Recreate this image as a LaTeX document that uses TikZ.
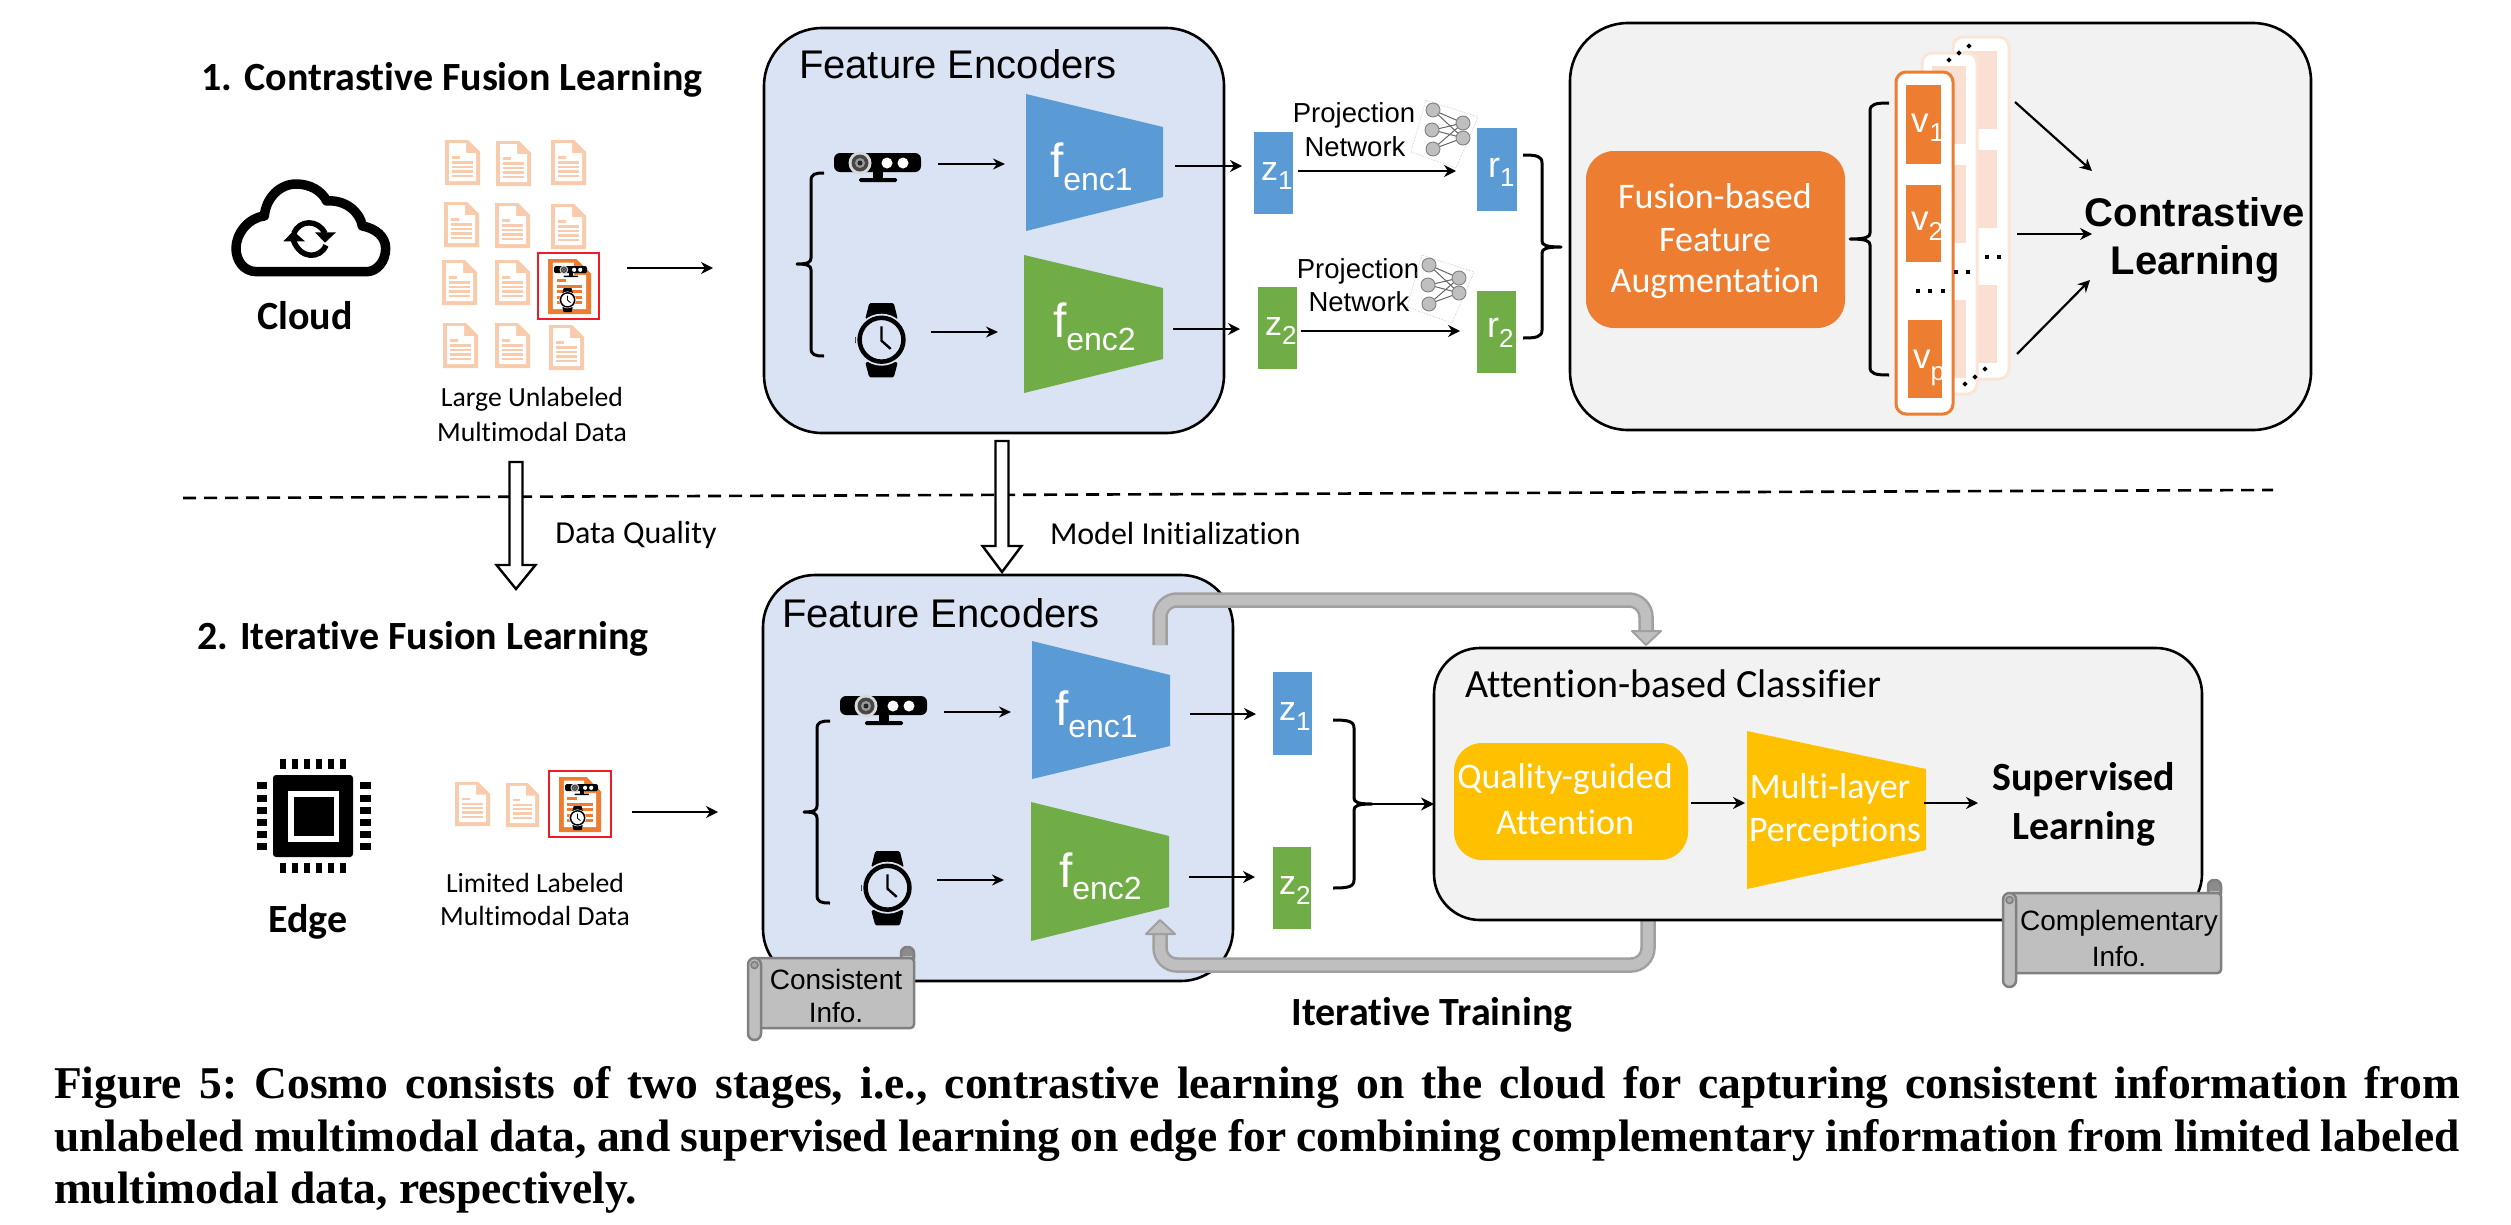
\documentclass[tikz,border=0pt]{standalone}
\usepackage{fontspec}
\setmainfont{Liberation Serif}
\newfontfamily\cali[Ligatures=NoCommon]{Carlito}
\newfontfamily\ari{Liberation Sans}
\usetikzlibrary{arrows.meta,calc}
\definecolor{fblue}{HTML}{DAE3F3}
\definecolor{pgrey}{HTML}{F2F2F2}
\definecolor{oran}{HTML}{ED7D31}
\definecolor{lor}{HTML}{F9E0D2}
\definecolor{lorl}{HTML}{FBE5D6}
\definecolor{docor}{HTML}{F8CBAD}
\definecolor{bblue}{HTML}{5B9BD5}
\definecolor{bgreen}{HTML}{70AD47}
\definecolor{gold}{HTML}{FFC000}
\definecolor{pipe}{HTML}{BFBFBF}
\definecolor{pipee}{HTML}{A0A0A0}
\definecolor{red1}{HTML}{EE1C25}
\tikzset{
  arr/.style={draw=black,line width=2.2pt,-{Stealth[length=12pt,width=12pt]}},
  heavyarr/.style={draw=black,line width=2.8pt,-{Stealth[length=13pt,width=13pt]}},
  thinarr/.style={draw=black,line width=1.6pt,-{Stealth[length=12pt,width=11pt]}},
  rb/.style={inner sep=0pt,outer sep=0pt},
  panel/.style={rb,draw=black,line width=2.6pt,rounded corners=#1},
  flat/.style={rb,fill=#1},
  txt/.style={inner sep=0pt,outer sep=0pt,align=center},
  bracel/.style={draw=black,line width=3pt,line join=round},
  scrollst/.style={draw=black!50,line width=2.5pt,fill=pipe},
}
\newcommand{\fs}[1]{\fontsize{#1}{#1}\selectfont}
% rectangular node by its corners
\newcommand{\bx}[6]{\node[#6,minimum width={(#4-#2)*1pt},minimum height={(#5-#3)*1pt}] (#1) at ({(#2+#4)/2},{(#3+#5)/2}) {};}
\newcommand{\tx}[6]{\node[txt] (#1) at (#2,#3) {#4\fs{#5}#6};}
% letter with subscript, given by base lines
\newcommand{\subl}[9]{\node[txt,anchor=base west,text=white] (#1) at (#2,#3) {\ari\fs{#6}#4\hspace{#9pt}\raisebox{-#8pt}{\fs{#7}#5}};}
\newcommand{\conn}[6]{\coordinate (#1s) at (#3,#4); \coordinate (#1e) at (#5,#6); \draw[#2] (#1s) -- (#1e);}
\newcommand{\trap}[8]{\fill[#8] (#2,#4) -- (#3,#6) -- (#3,#7) -- (#2,#5) -- cycle; \coordinate (#1) at ({(#2+#3)/2},{(#4+#5)/2});}
\newcommand{\bracep}[6]{\draw[bracel] (#1,#4) .. controls ({#2+(#1-#2)*0.3},#4) and (#2,{#4+1}) .. (#2,{#4+8}) -- (#2,{#5-6}) .. controls (#2,{#5-2}) and ({#2+(#3-#2)*0.2},#5) .. (#3,#5) .. controls ({#2+(#3-#2)*0.2},#5) and (#2,{#5+2}) .. (#2,{#5+6}) -- (#2,{#6-8}) .. controls (#2,{#6-1}) and ({#2+(#1-#2)*0.3},#6) .. (#1,#6);}
% document icon: x y w h colour
\newcommand{\docic}[5]{\begin{scope}[shift={(#1,#2)},xscale=#3/35,yscale=#4/45]
\fill[#5] (0,0) -- (23,0) -- (35,12) -- (35,45) -- (0,45) -- cycle;
\fill[white] (4,3) -- (21,3) -- (21,13) -- (31,13) -- (31,41) -- (4,41) -- cycle;
\foreach \yy in {21,25.5,30,34.5}{\fill[#5] (7,\yy) rectangle (28,{\yy+2.6});}
\fill[#5] (7,16) rectangle (15,18.5);
\end{scope}}
\newcommand{\kinect}[4]{\begin{scope}[shift={(#1,#2)},xscale=#3,yscale=#3]
\fill[black,rounded corners=#4*6pt] (0,0) rectangle (87,19);
\fill[black] (39,18) rectangle (49,26);
\fill[black,rounded corners=#4*1.5pt] (25,25) rectangle (63,29);
\fill[black!15] (26,10) circle (11.5);
\fill[black!72] (26,10) circle (8.5);
\fill[black!40] (26,10) circle (5);
\fill[black!85] (26,10) circle (2.5);
\fill[white] (53,10) circle (5.5);
\fill[white] (69,10) circle (5.5);
\end{scope}}
\newcommand{\watchic}[5]{\begin{scope}[shift={(#1,#2)},xscale=#3,yscale=#3]
\fill[black,rounded corners=#4*1.5pt] (14,0) -- (38,0) -- (42,16) -- (10,16) -- cycle;
\fill[black,rounded corners=#4*1.5pt] (10,58) -- (42,58) -- (38,73) -- (14,73) -- cycle;
\fill[black] (0,33) rectangle (5,39);
\fill[#5] (26,36) circle (25.5);
\draw[black,line width=#4*4.5pt,fill=#5] (26,36) circle (21.5);
\draw[black,line width=#4*2.4pt] (26,23) -- (26,37) -- (35,45);
\end{scope}}
\newcommand{\nnic}[2]{\begin{scope}[shift={(#1,#2)}]
\draw[black!25,densely dotted,line width=.6pt] (1426,100) -- (1478,117) -- (1456,168) -- (1411,152) -- cycle;
\foreach \a in {110,130,149}{\foreach \b in {123,138}{\draw[black!60,line width=1pt] (1433,\a) -- (1463,\b);}}
\foreach \c/\d in {1433/110,1432/130,1433/149,1463/123,1463/138}{\draw[black!50,fill=black!25,line width=.9pt] (\c,\d) circle (7);}
\end{scope}}
\newcommand{\scrollic}[6]{%x0 x1 top bottom up down
\draw[scrollst,fill=black!45,rounded corners=6pt] ({#2-13},{#3-#5}) rectangle (#2,{#3+6});
\fill[pipe] ({#2-11},{#3-2}) rectangle ({#2-2},{#3+6});
\draw[scrollst,rounded corners=3.5pt] ({#1+6},#3) rectangle (#2,#4);
\draw[scrollst,rounded corners=6.5pt] (#1,#3) rectangle ({#1+13},{#4+#6});
\draw[black!50,line width=1.6pt,fill=black!35] ({#1+6.5},{#3+7}) circle (3.5);
}
\newcommand{\hollow}[4]{\draw[line width=2.4pt,fill=white,line join=miter] ({#1-6.5},#2) -- ({#1+6.5},#2) -- ({#1+6.5},#3) -- ({#1+19.5},#3) -- (#1,#4) -- ({#1-19.5},#3) -- ({#1-6.5},#3) -- cycle;}
\begin{document}
\begin{tikzpicture}[x=1pt,y=-1pt]
\useasboundingbox (0,0) rectangle (2511,1224);
% headings
\tx{h1}{452}{80}{\cali\bfseries}{40}{1. Contrastive Fusion Learning}
\tx{h2}{423}{639}{\cali\bfseries}{40}{2. Iterative Fusion Learning}
% cloud
\begin{scope}[shift={(210,170)},xscale=1/3,yscale=1/3]
\draw[line width=9.5pt,line join=round] (140,305) .. controls (100,305) and (78,270) .. (78,235) .. controls (78,190) and (116,143) .. (163,138) .. controls (168,83) and (210,42) .. (258,42) .. controls (300,42) and (335,62) .. (350,93) .. controls (405,88) and (450,125) .. (457,168) .. controls (497,175) and (527,200) .. (527,235) .. controls (527,275) and (500,305) .. (470,305) -- cycle;
\draw[line width=5.5pt] (252,190) .. controls (268,148) and (325,148) .. (345,190);
\fill (315,187) -- (378,187) -- (345,218) -- cycle;
\draw[line width=5.5pt] (348,226) .. controls (330,268) and (270,268) .. (250,210);
\fill (220,214) -- (285,214) -- (250,183) -- cycle;
\end{scope}
\tx{cloudt}{305}{316}{\cali\bfseries}{40}{Cloud}
% doc grid
\foreach \p/\q in {445/140,496/141,551/140,444/202,495/203,551/204,442/260,495/260,443/323,495/323,549/325}{\docic{\p}{\q}{35}{45}{docor}}
\docic{548}{259}{43}{55}{oran}
\kinect{554}{266}{0.38}{0.38}
\watchic{559}{288}{0.33}{0.33}{white}
\bx{rbox1}{538}{253}{599}{319}{rb,draw=red1,line width=2.2pt}
\tx{lu1}{532}{399}{\cali}{27.7}{Large Unlabeled}
\tx{lu2}{532}{432}{\cali}{27.7}{Multimodal Data}
\conn{a1}{arr}{627}{268}{713}{268}
% top feature box
\bx{fe1}{764}{28}{1224}{433}{panel=58pt,fill=fblue}
\tx{fe1t}{958}{64}{\ari}{40}{Feature Encoders}
\kinect{834}{153}{1}{1}
\watchic{855}{303}{1.02}{1}{fblue}
\bracep{824}{811}{797}{173}{264}{356}
\conn{a2}{thinarr}{938}{164}{1005}{164}
\conn{a3}{thinarr}{931}{332}{998}{332}
\trap{enc1}{1026}{1163}{94}{231}{127}{197}{bblue}
\trap{enc2}{1024}{1163}{255}{393}{288}{359}{bgreen}
\subl{l1}{1050}{177}{f}{enc1}{48}{32}{13}{0}
\subl{l2}{1053}{337}{f}{enc2}{48}{32}{13}{0}
\conn{a4}{arr}{1175}{166}{1242}{166}
\conn{a5}{arr}{1173}{329}{1240}{329}
% z r
\bx{z1}{1254}{132}{1293}{214}{flat=bblue}
\bx{z2}{1258}{287}{1297}{369}{flat=bgreen}
\bx{r1}{1477}{128}{1517}{211}{flat=bblue}
\bx{r2}{1477}{291}{1516}{373}{flat=bgreen}
\subl{lz1}{1261}{180}{z}{1}{34}{26}{9}{0}
\subl{lz2}{1265}{335}{z}{2}{34}{26}{9}{0}
\subl{lr1}{1488}{177}{r}{1}{36}{26}{9}{0}
\subl{lr2}{1487}{337}{r}{2}{36}{26}{10}{0}
\conn{a6}{arr}{1298}{171}{1456}{171}
\conn{a7}{arr}{1301}{331}{1460}{331}
\tx{p1a}{1354}{115}{\ari}{27.5}{Projection}
\tx{p1b}{1355}{147}{\ari}{27.5}{Network}
\tx{p2a}{1358}{271}{\ari}{27.5}{Projection}
\tx{p2b}{1359}{302}{\ari}{27.5}{Network}
\nnic{0}{0}
\nnic{-4}{155}
\bracep{1523}{1542}{1561}{155}{247}{338}
% contrastive panel
\bx{cp}{1570}{23}{2311}{430}{panel=58pt,fill=pgrey}
\bx{fa}{1586}{151}{1845}{328}{flat=oran,rounded corners=28pt}
\tx{fa1}{1715}{196}{\cali\color{white}}{36}{Fusion-based}
\tx{fa2}{1715}{240}{\cali\color{white}}{36}{Feature}
\tx{fa3}{1715}{283}{\cali\color{white}}{36}{Augmentation}
\bracep{1889}{1870}{1850}{103}{239}{375}
% stacks
\bx{st3}{1953}{37}{2009}{379}{rb,draw=lorl,line width=3pt,fill=white,rounded corners=10pt}
\foreach \aa/\bb in {51/129,150/228,285/363}{\fill[lor] (1963,\aa) rectangle (1997,\bb);}
\bx{st2}{1922}{53}{1977}{394}{rb,draw=lorl,line width=3pt,fill=white,rounded corners=10pt}
\foreach \aa/\bb in {66/144,165/243,300/378}{\fill[lor] (1932,\aa) rectangle (1966,\bb);}
\bx{st1}{1896}{72}{1953}{414}{rb,draw=oran,line width=3pt,fill=white,rounded corners=10pt}
\bx{v1b}{1906}{85}{1941}{164}{flat=oran}
\bx{v2b}{1906}{185}{1941}{262}{flat=oran}
\bx{vpb}{1908}{320}{1942}{398}{flat=oran}
\subl{v1}{1911}{132}{v}{1}{35}{26}{9}{1}
\subl{v2}{1911}{230}{v}{2}{35}{26}{10}{0}
\subl{vp}{1913}{368}{v}{p}{35}{26}{12}{0}
\foreach \c/\d in {1918/291,1930/291,1943/291,1956/272,1968/272,1987/257,1999/257}{\fill (\c-1.9,\d-1.9) rectangle (\c+1.9,\d+1.9);}
\foreach \c/\d in {1949/60,1959/53,1969/46,1965/384,1975/377,1985/369}{\fill (\c,\d-2.6) -- (\c+2.6,\d) -- (\c,\d+2.6) -- (\c-2.6,\d) -- cycle;}
\conn{c1}{arr}{2015}{102}{2092}{171}
\conn{c2}{arr}{2017}{234}{2092}{234}
\conn{c3}{arr}{2017}{354}{2090}{280}
\tx{cl1}{2195}{212}{\ari\bfseries}{40}{Contrastive}
\tx{cl2}{2195}{264}{\ari\bfseries}{40}{Learning}
% dashed line
\coordinate (dashs) at (183,498); \coordinate (dashe) at (2273,490);
\draw[line width=2.6pt,dash pattern=on 13pt off 8pt] (dashs) -- (dashe);
\hollow{516}{462}{565}{589}
\hollow{1002}{441}{546}{572}
\tx{dq}{636}{535}{\cali}{32}{Data Quality}
\node[txt,anchor=west] (mi) at (1050,533) {\cali\fs{32}Model Initialization};
% chip
\bx{chip}{273}{775}{353}{857}{flat=black,rounded corners=3pt}
\bx{chipw}{288}{791}{339}{842}{flat=white}
\bx{chipi}{294}{797}{334}{836}{flat=black}
\foreach \c in {283,295,307,319,331,343}{\fill (\c-3,759) rectangle (\c+3,769); \fill (\c-3,863) rectangle (\c+3,873);}
\foreach \d in {785,798,810,822,834,846}{\fill (257,\d-3.5) rectangle (267,\d+3.5); \fill (360,\d-3.5) rectangle (371,\d+3.5);}
\tx{edget}{308}{922}{\cali\bfseries}{40}{Edge}
\docic{455}{782}{35}{44}{docor}
\docic{506}{783}{33}{44}{docor}
\docic{559}{777}{42}{55}{oran}
\kinect{565}{784}{0.38}{0.38}
\watchic{569}{806}{0.33}{0.33}{white}
\bx{rbox2}{549}{771}{611}{837}{rb,draw=red1,line width=2.2pt}
\tx{ll1}{535}{883}{\cali}{27.7}{Limited Labeled}
\tx{ll2}{535}{916}{\cali}{27.7}{Multimodal Data}
\conn{b1}{arr}{632}{812}{718}{812}
% lower feature box
\bx{fe2}{763}{575}{1233}{981}{panel=52pt,fill=fblue}
\tx{fe2t}{941}{613}{\ari}{40}{Feature Encoders}
% pipes
\coordinate (ps1) at (1160,645); \coordinate (pc1) at (1160,600); \coordinate (pc2) at (1646,600); \coordinate (pe1) at (1646,632);
\draw[pipee,line width=15.5pt,rounded corners=17pt] (ps1) -- (pc1) -- (pc2) -- (pe1);
\draw[pipe,line width=10.5pt,rounded corners=17pt] (ps1) -- (pc1) -- (pc2) -- (pe1);
\draw[pipee,fill=pipe,line width=2pt,line join=round] (1632,631) -- (1661,631) -- (1646,645) -- cycle;
\coordinate (ps2) at (1648,921); \coordinate (pc3) at (1648,965); \coordinate (pc4) at (1160,965); \coordinate (pe2) at (1160,933);
\draw[pipee,line width=15.5pt,rounded corners=17pt] (ps2) -- (pc3) -- (pc4) -- (pe2);
\draw[pipe,line width=10.5pt,rounded corners=17pt] (ps2) -- (pc3) -- (pc4) -- (pe2);
\draw[pipee,fill=pipe,line width=2pt,line join=round] (1146,934) -- (1175,934) -- (1160,920) -- cycle;
\kinect{840}{696}{1}{1}
\watchic{861}{851}{1.02}{1}{fblue}
\bracep{830}{817}{804}{721}{812}{903}
\conn{b2}{thinarr}{944}{712}{1011}{712}
\conn{b3}{thinarr}{937}{880}{1004}{880}
\trap{enc3}{1032}{1170}{641}{779}{675}{746}{bblue}
\trap{enc4}{1031}{1169}{802}{941}{836}{907}{bgreen}
\subl{l3}{1055}{725}{f}{enc1}{48}{32}{12}{0}
\subl{l4}{1059}{887}{f}{enc2}{48}{32}{12}{0}
\conn{b4}{arr}{1190}{714}{1256}{714}
\conn{b5}{arr}{1189}{877}{1255}{877}
\bx{z3}{1273}{672}{1312}{755}{flat=bblue}
\bx{z4}{1273}{847}{1311}{929}{flat=bgreen}
\subl{lz3}{1279}{720}{z}{1}{34}{26}{10}{0}
\subl{lz4}{1279}{894}{z}{2}{34}{26}{10}{0}
\bracep{1333}{1354}{1372}{720}{804}{888}
% classifier
\bx{cls}{1434}{648}{2202}{920}{panel=46pt,fill=pgrey}
\coordinate (btip) at (1372,804);
\draw[heavyarr] (btip) -- (cls.west |- btip);
\node[txt,anchor=west] (clst) at (1465,684) {\cali\fs{40}Attention-based Classifier};
\bx{qa}{1454}{743}{1688}{860}{flat=gold,rounded corners=28pt}
\tx{qa1}{1565}{779}{\cali\color{white}}{36}{Quality-guided}
\tx{qa2}{1565}{822}{\cali\color{white}}{36}{Attention}
\trap{mlp}{1747}{1926}{731}{889}{769}{850}{gold}
\tx{ml1}{1830}{789}{\cali\color{white}}{36}{Multi-layer}
\tx{ml2}{1835}{832}{\cali\color{white}}{36}{Perceptions}
\conn{q1}{arr}{1691}{803}{1745}{803}
\conn{q2}{arr}{1924}{803}{1978}{803}
\tx{sl1}{2084}{780}{\cali\bfseries}{40}{Supervised}
\tx{sl2}{2084}{829}{\cali\bfseries}{40}{Learning}
\tx{it}{1432}{1015}{\cali\bfseries}{40}{Iterative Training}
% scrolls
\scrollic{748}{914}{958}{1028}{11}{12}
\tx{s1a}{836}{979}{\ari}{28}{Consistent}
\tx{s1b}{836}{1012}{\ari}{28}{Info.}
\scrollic{2003}{2221}{893}{973}{13}{14}
\tx{s2a}{2119}{923}{\ari}{28}{Complementary}
\tx{s2b}{2119}{956}{\ari}{28}{Info.}
% caption
\node[txt,anchor=base west] (cap1) at (54,1098) {\frenchspacing\bfseries\fs{45.5}\makebox[2406pt][s]{Figure 5: Cosmo consists of two stages, i.e., contrastive learning on the cloud for capturing consistent information from}};
\node[txt,anchor=base west] (cap2) at (54,1151) {\frenchspacing\bfseries\fs{45.5}\makebox[2406pt][s]{unlabeled multimodal data, and supervised learning on edge for combining complementary information from limited labeled}};
\node[txt,anchor=base west] (cap3) at (54,1203) {\frenchspacing\bfseries\fs{45.5}multimodal data, respectively.};
\end{tikzpicture}
\end{document}
